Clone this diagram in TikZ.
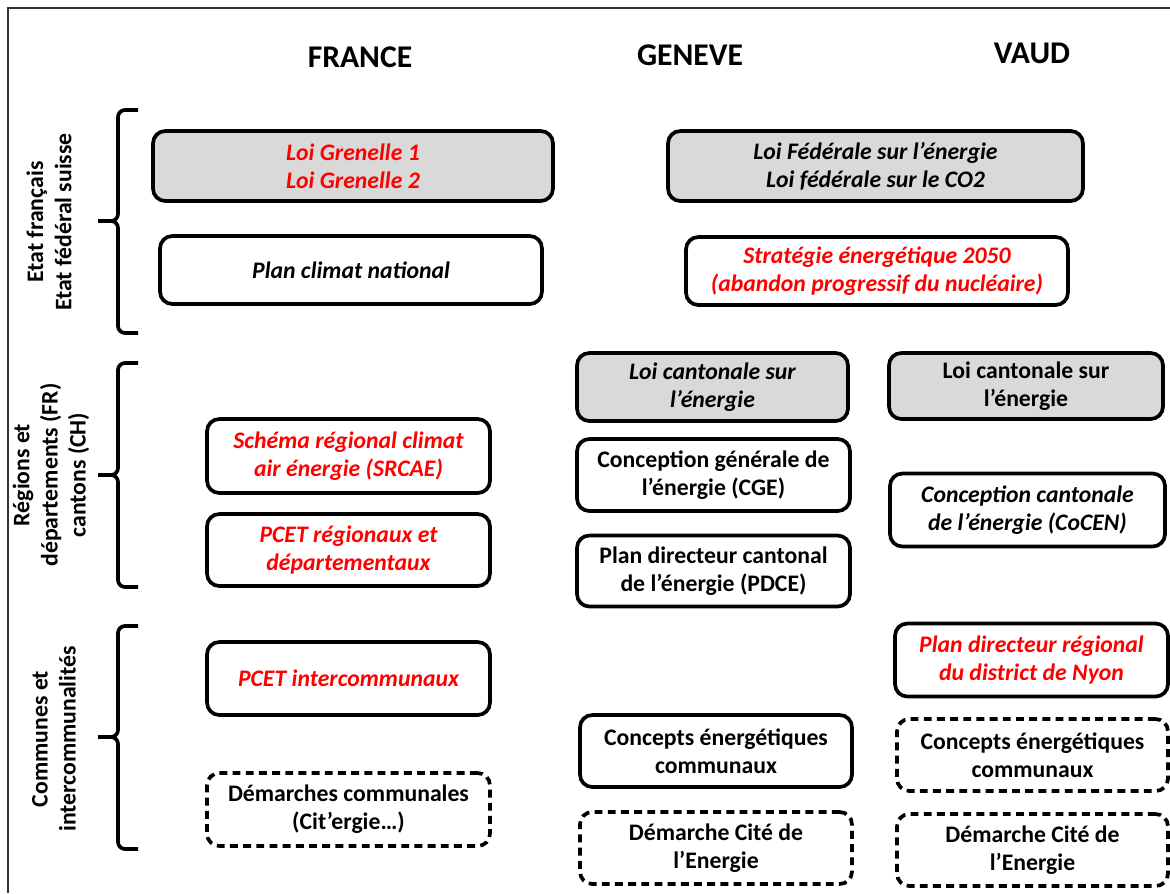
\documentclass[tikz,border=0pt]{standalone}
\usepackage{fontspec}
\setmainfont{Carlito}
\tikzset{
  box/.style={draw, line width=2.1pt, rounded corners=7pt, align=center, inner sep=2pt,
    font=\bfseries\fontsize{13.5}{16}\selectfont},
  graybox/.style={box, fill=black!15},
  dashbox/.style={box, dash pattern=on 4.5pt off 3pt},
  it/.style={font=\bfseries\itshape\fontsize{13.5}{16}\selectfont},
  head/.style={font=\bfseries\fontsize{18}{22}\selectfont},
  side/.style={rotate=90, align=center, font=\bfseries\fontsize{13.5}{16}\selectfont},
  brace/.style={line width=2.1pt, rounded corners=4pt},
}
\begin{document}
\begin{tikzpicture}[x=0.02cm, y=-0.02cm]
\useasboundingbox (0,0) rectangle (1170,893);
\draw[line width=1.2pt, black!80] (8,893) -- (8,8) -- (1170,8);

\node[head] (france) at (360,57) {FRANCE};
\node[head] (geneve) at (690,55) {GENEVE};
\node[head] (vaud) at (1032,53) {VAUD};

\node[side] (etat) at (49,222) {Etat français\\Etat fédéral suisse};
\node[side] (regions) at (51,475) {Régions et\\départements (FR)\\cantons (CH)};
\node[side] (communes) at (54,739) {Communes et\\intercommunalités};

\draw[brace] (138,110) -- (118,110) -- (118,221) -- (98,221);
\draw[brace] (98,221) -- (118,221) -- (118,333) -- (138,333);
\draw[brace] (138,363) -- (118,363) -- (118,475) -- (98,475);
\draw[brace] (98,475) -- (118,475) -- (118,587) -- (138,587);
\draw[brace] (138,626) -- (118,626) -- (118,737) -- (98,737);
\draw[brace] (98,737) -- (118,737) -- (118,849) -- (138,849);

\node[graybox, it, text=red, minimum width=8cm, minimum height=1.4cm] (grenelle) at (353,166) {Loi Grenelle 1\\Loi Grenelle 2};
\node[box, it, minimum width=7.64cm, minimum height=1.36cm] (planclimat) at (351,270) {Plan climat national};
\node[box, it, text=red, minimum width=5.66cm, minimum height=1.48cm] (srcae) at (348.5,456) {Schéma régional climat\\air énergie (SRCAE)};
\node[box, it, text=red, minimum width=5.66cm, minimum height=1.44cm] (pcetreg) at (348.5,550) {PCET régionaux et\\départementaux};
\node[box, it, text=red, minimum width=5.66cm, minimum height=1.46cm] (pcetinter) at (348.5,678.5) {PCET intercommunaux};
\node[dashbox, minimum width=5.66cm, minimum height=1.46cm] (demcom) at (348.5,809.5) {Démarches communales\\(Cit’ergie…)};

\node[graybox, it, minimum width=8.3cm, minimum height=1.4cm] (loifed) at (875.5,166) {Loi Fédérale sur l’énergie\\Loi fédérale sur le CO2};
\node[box, it, text=red, minimum width=7.64cm, minimum height=1.36cm] (strat) at (877,271) {Stratégie énergétique 2050\\(abandon progressif du nucléaire)};

\node[graybox, it, minimum width=5.42cm, minimum height=1.36cm] (lcge) at (712.5,387) {Loi cantonale sur\\l’énergie};
\node[box, minimum width=5.46cm, minimum height=1.44cm] (cge) at (713.5,475) {Conception générale de\\l’énergie (CGE)};
\node[box, minimum width=5.46cm, minimum height=1.42cm] (pdce) at (713.5,571) {Plan directeur cantonal\\de l’énergie (PDCE)};
\node[box, minimum width=5.44cm, minimum height=1.44cm] (cege) at (716,751) {Concepts énergétiques\\communaux};
\node[dashbox, minimum width=5.44cm, minimum height=1.44cm] (citege) at (716,848) {Démarche Cité de\\l’Energie};

\node[graybox, minimum width=5.48cm, minimum height=1.32cm] (lcvd) at (1026,386) {Loi cantonale sur\\l’énergie};
\node[box, it, minimum width=5.5cm, minimum height=1.46cm] (cocen) at (1027.5,510) {Conception cantonale\\de l’énergie (CoCEN)};
\node[box, it, text=red, minimum width=5.46cm, minimum height=1.46cm] (nyon) at (1031.5,660) {Plan directeur régional\\du district de Nyon};
\node[dashbox, minimum width=5.42cm, minimum height=1.44cm] (cevd) at (1032.5,755) {Concepts énergétiques\\communaux};
\node[dashbox, minimum width=5.42cm, minimum height=1.44cm] (citevd) at (1032.5,850) {Démarche Cité de\\l’Energie};
\end{tikzpicture}
\end{document}
